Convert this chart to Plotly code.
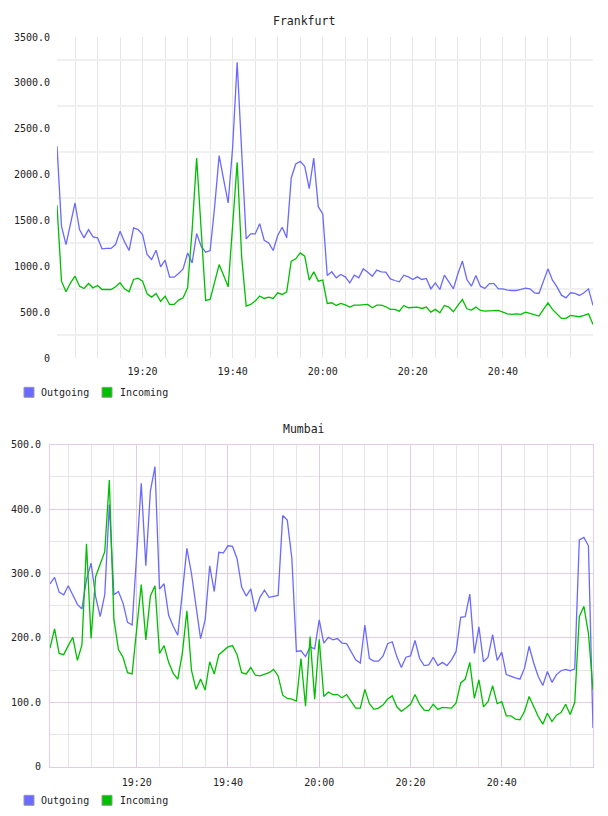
import datetime as dt
import plotly.graph_objects as go

# ---------------- data ----------------
start = dt.datetime(2024, 1, 1, 19, 1)
times = [start + dt.timedelta(minutes=i) for i in range(120)]

fra_outgoing = [
    2310, 1437, 1237, 1455, 1690, 1400, 1310, 1400, 1320, 1310,
    1190, 1195, 1195, 1237, 1382, 1266, 1172, 1418, 1400, 1346,
    1128, 1074, 1175, 994, 1066, 881, 881, 921, 972, 1146,
    1037, 1357, 1219, 1154, 1172, 1650, 2206, 1945, 1690, 2300,
    3225, 2250, 1299, 1353, 1353, 1465, 1284, 1255, 1172, 1335,
    1426, 1310, 1963, 2115, 2144, 2090, 1846, 2180, 1650, 1570,
    900, 940, 874, 910, 885, 820, 903, 874, 972, 936,
    892, 958, 940, 936, 863, 845, 831, 903, 885, 856,
    885, 856, 867, 754, 820, 747, 903, 831, 754, 918,
    1056, 856, 783, 900, 783, 758, 812, 812, 754, 754,
    740, 736, 736, 747, 762, 754, 711, 704, 838, 972,
    849, 776, 685, 656, 711, 704, 682, 711, 754, 573,
]
fra_incoming = [
    1665, 838, 722, 820, 892, 783, 758, 812, 765, 791,
    747, 747, 747, 776, 820, 754, 722, 856, 871, 838,
    700, 664, 704, 617, 675, 584, 584, 631, 656, 765,
    1400, 2180, 1400, 627, 638, 831, 1019, 900, 776, 1450,
    2133, 1100, 566, 584, 620, 675, 649, 664, 649, 711,
    693, 722, 1056, 1081, 1146, 1110, 849, 940, 838, 849,
    595, 602, 573, 595, 580, 555, 577, 577, 580, 584,
    548, 577, 577, 559, 530, 530, 511, 573, 548, 555,
    555, 540, 555, 500, 530, 493, 573, 555, 504, 573,
    638, 537, 522, 555, 519, 511, 511, 519, 519, 500,
    482, 475, 482, 475, 500, 486, 475, 457, 530, 602,
    530, 482, 432, 432, 464, 457, 450, 464, 482, 366,
]
mum_outgoing = [
    284, 294, 271, 267, 281, 267, 252, 245, 291, 316,
    264, 233, 267, 407, 267, 272, 254, 224, 220, 330,
    440, 312, 428, 466, 276, 284, 235, 218, 204, 270,
    339, 300, 251, 199, 228, 312, 272, 333, 332, 343,
    342, 323, 279, 265, 276, 241, 263, 274, 263, 265,
    266, 390, 383, 324, 179, 180, 171, 186, 183, 228,
    192, 201, 197, 199, 192, 191, 179, 166, 161, 220,
    168, 164, 164, 172, 191, 194, 171, 154, 170, 172,
    196, 168, 157, 158, 170, 157, 162, 157, 166, 179,
    232, 233, 268, 176, 217, 163, 170, 205, 165, 178,
    143, 140, 138, 136, 153, 187, 161, 140, 126, 148,
    131, 143, 149, 151, 149, 152, 352, 356, 343, 60,
]
mum_incoming = [
    184, 214, 176, 174, 188, 201, 165, 189, 346, 199,
    295, 315, 334, 445, 229, 182, 170, 146, 144, 214,
    283, 197, 265, 281, 176, 188, 162, 145, 136, 176,
    242, 150, 120, 136, 119, 163, 144, 174, 180, 186,
    188, 174, 146, 144, 154, 142, 141, 144, 146, 151,
    141, 111, 106, 105, 102, 168, 94, 202, 105, 198,
    109, 116, 112, 112, 107, 112, 101, 91, 91, 120,
    98, 89, 91, 96, 105, 110, 93, 86, 91, 97,
    112, 97, 88, 87, 97, 89, 92, 91, 91, 99,
    130, 136, 162, 106, 135, 93, 101, 126, 98, 101,
    79, 79, 74, 73, 86, 109, 93, 78, 66, 83,
    70, 80, 84, 97, 81, 100, 233, 249, 207, 119,
]

series_names = ["Outgoing", "Incoming"]
titles = ["Frankfurt", "Mumbai"]
fra_ytick_vals = [0, 500, 1000, 1500, 2000, 2500, 3000, 3500]
fra_ytick_text = ["0", "500.0", "1000.0", "1500.0", "2000.0", "2500.0", "3000.0", "3500.0"]
mum_ytick_vals = [0, 100, 200, 300, 400, 500]
mum_ytick_text = ["0", "100.0", "200.0", "300.0", "400.0", "500.0"]

# ---------------- style ----------------
W, H = 608, 816
BLUE = "#6a6aff"
GREEN = "#00bf00"
MONO = "DejaVu Sans Mono"
GRID = "#e6e6e6"
PURPLE = "#e3cce3"


def px(x):
    return x / W


def py(y):
    return 1 - y / H


fig = go.Figure()

for name, vals, col in [(series_names[0], fra_outgoing, BLUE), (series_names[1], fra_incoming, GREEN)]:
    fig.add_trace(go.Scatter(x=times, y=vals, mode="lines", name=name, showlegend=False,
                             line=dict(color=col, width=1.3), xaxis="x", yaxis="y"))
for name, vals, col in [(series_names[0], mum_outgoing, BLUE), (series_names[1], mum_incoming, GREEN)]:
    fig.add_trace(go.Scatter(x=times, y=vals, mode="lines", name=name, showlegend=False,
                             line=dict(color=col, width=1.3), xaxis="x2", yaxis="y2"))

xr = [times[0], times[-1]]
tickfont = dict(family=MONO, size=10, color="#222222")
x_common = dict(type="date", range=xr, tick0="2024-01-01 19:00", dtick=1200000,
                tickformat="%H:%M", tickfont=tickfont, ticks="", zeroline=False,
                ticklabelstandoff=6, automargin=False)

fig.update_layout(
    width=W, height=H, autosize=False,
    margin=dict(l=0, r=0, t=0, b=0, pad=0, autoexpand=False),
    paper_bgcolor="white", plot_bgcolor="white",
    xaxis=dict(domain=[px(57), px(593)], anchor="y", showgrid=True, gridcolor=GRID, gridwidth=1,
               showline=False,
               minor=dict(dtick=300000, tick0="2024-01-01 19:00", showgrid=True, gridcolor=GRID, gridwidth=1),
               **x_common),
    yaxis=dict(domain=[py(358), py(37)], anchor="x", range=[0, 3500], automargin=False,
               tickvals=fra_ytick_vals, ticktext=fra_ytick_text, tickfont=tickfont,
               showgrid=False, zeroline=False, showline=False, ticks="", ticklabelstandoff=6,
               minor=dict(tickvals=[250, 750, 1250, 1750, 2250, 2750, 3250], showgrid=True,
                          gridcolor="#f0f0f0", gridwidth=2)),
    xaxis2=dict(domain=[px(50), px(593)], anchor="y2", showgrid=True, gridcolor=PURPLE, gridwidth=1,
                showline=True, mirror=True, linecolor=PURPLE, linewidth=1,
                minor=dict(dtick=300000, tick0="2024-01-01 19:00", showgrid=True, gridcolor=GRID, gridwidth=1),
                **x_common),
    yaxis2=dict(domain=[py(766.7), py(444.7)], anchor="x2", range=[0, 500], automargin=False,
                tickvals=mum_ytick_vals, ticktext=mum_ytick_text, tickfont=tickfont,
                showgrid=True, gridcolor=PURPLE, gridwidth=1, zeroline=False,
                showline=True, mirror=True, linecolor=PURPLE, linewidth=1, ticks="", ticklabelstandoff=6,
                minor=dict(tickvals=[50, 150, 250, 350, 450], showgrid=True, gridcolor=GRID, gridwidth=1)),
)

# titles
annotations = []
for t, y in zip(titles, [20.7, 429]):
    annotations.append(dict(text=t, x=0.5, y=py(y), xref="paper", yref="paper",
                            xanchor="center", yanchor="middle", showarrow=False,
                            font=dict(family=MONO, size=11.5, color="#222222")))

# legends (manual, squares + text)
shapes = []
colors = [BLUE, GREEN]
sq_x = [24, 102]
txt_x = [39, 118]
for cy in [392.3, 800.3]:
    for k in range(2):
        shapes.append(dict(type="rect", xref="paper", yref="paper",
                           x0=px(sq_x[k]), x1=px(sq_x[k] + 10), y0=py(cy + 5), y1=py(cy - 5),
                           fillcolor=colors[k], line=dict(color="#999999", width=1)))
        annotations.append(dict(text=series_names[k], x=px(txt_x[k]), y=py(cy), xref="paper", yref="paper",
                                xanchor="left", yanchor="middle", showarrow=False,
                                font=dict(family=MONO, size=10, color="#222222")))

fig.update_layout(annotations=annotations, shapes=shapes)
fig.write_html("out.html")
